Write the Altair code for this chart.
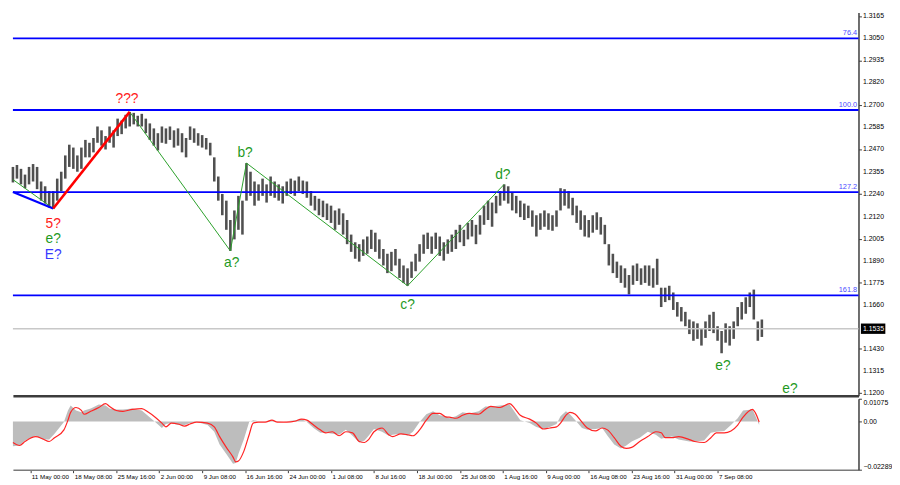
import altair as alt
import pandas as pd

# ---------------- data ----------------
# H4 bars, one sample every 3 bars: high / low prices
high = [
    1.2379, 1.2389, 1.2369, 1.2339, 1.2379, 1.2394, 1.2379, 1.2303, 1.2278, 1.2253,
    1.2253, 1.2318, 1.2354, 1.2439, 1.2495, 1.2480, 1.2439, 1.2480, 1.2520, 1.2505,
    1.2530, 1.2590, 1.2570, 1.2540, 1.2590, 1.2570, 1.2631, 1.2621, 1.2651, 1.2666,
    1.2661, 1.2646, 1.2656, 1.2631, 1.2606, 1.2580, 1.2555, 1.2590, 1.2580, 1.2590,
    1.2570, 1.2580, 1.2555, 1.2530, 1.2590, 1.2580, 1.2555, 1.2545, 1.2530, 1.2505,
    1.2429, 1.2329, 1.2238, 1.2203, 1.2102, 1.2152, 1.2228, 1.2203, 1.2399, 1.2354,
    1.2303, 1.2288, 1.2318, 1.2288, 1.2329, 1.2303, 1.2288, 1.2278, 1.2303, 1.2318,
    1.2308, 1.2329, 1.2308, 1.2303, 1.2253, 1.2228, 1.2213, 1.2203, 1.2188, 1.2177,
    1.2152, 1.2162, 1.2137, 1.2102, 1.2026, 1.1986, 1.1976, 1.2001, 1.2016, 1.2051,
    1.2036, 1.2001, 1.1951, 1.1926, 1.1936, 1.1951, 1.1900, 1.1865, 1.1850, 1.1885,
    1.1926, 1.1976, 1.2026, 1.2036, 1.2016, 1.2036, 1.2016, 1.1986, 1.2001, 1.2026,
    1.2051, 1.2077, 1.2051, 1.2087, 1.2102, 1.2077, 1.2127, 1.2177, 1.2203, 1.2193,
    1.2228, 1.2253, 1.2288, 1.2278, 1.2243, 1.2228, 1.2203, 1.2188, 1.2177, 1.2152,
    1.2127, 1.2137, 1.2152, 1.2137, 1.2127, 1.2152, 1.2268, 1.2263, 1.2253, 1.2218,
    1.2177, 1.2152, 1.2127, 1.2102, 1.2127, 1.2142, 1.2117, 1.2077, 1.1976, 1.1926,
    1.1885, 1.1865, 1.1850, 1.1815, 1.1865, 1.1875, 1.1850, 1.1865, 1.1865, 1.1850,
    1.1900, 1.1749, 1.1749, 1.1759, 1.1724, 1.1674, 1.1648, 1.1623, 1.1583, 1.1573,
    1.1563, 1.1538, 1.1573, 1.1608, 1.1623, 1.1548, 1.1523, 1.1563, 1.1548, 1.1573,
    1.1648, 1.1674, 1.1699, 1.1724, 1.1739, 1.1573, 1.1583,
]
low = [
    1.2298, 1.2318, 1.2288, 1.2268, 1.2288, 1.2303, 1.2263, 1.2203, 1.2188, 1.2167,
    1.2162, 1.2203, 1.2253, 1.2318, 1.2379, 1.2369, 1.2354, 1.2369, 1.2429, 1.2429,
    1.2455, 1.2505, 1.2490, 1.2470, 1.2505, 1.2480, 1.2540, 1.2550, 1.2580, 1.2590,
    1.2601, 1.2590, 1.2590, 1.2555, 1.2520, 1.2490, 1.2465, 1.2505, 1.2500, 1.2520,
    1.2480, 1.2490, 1.2455, 1.2429, 1.2520, 1.2505, 1.2490, 1.2480, 1.2470, 1.2439,
    1.2303, 1.2203, 1.2127, 1.2051, 1.1941, 1.2001, 1.2051, 1.2026, 1.2203, 1.2228,
    1.2177, 1.2203, 1.2228, 1.2193, 1.2228, 1.2218, 1.2203, 1.2188, 1.2228, 1.2238,
    1.2228, 1.2253, 1.2238, 1.2218, 1.2177, 1.2152, 1.2127, 1.2117, 1.2102, 1.2087,
    1.2051, 1.2077, 1.2026, 1.1976, 1.1936, 1.1900, 1.1885, 1.1915, 1.1926, 1.1951,
    1.1936, 1.1900, 1.1865, 1.1825, 1.1835, 1.1865, 1.1800, 1.1774, 1.1759, 1.1800,
    1.1835, 1.1885, 1.1926, 1.1951, 1.1926, 1.1951, 1.1915, 1.1890, 1.1926, 1.1936,
    1.1951, 1.1986, 1.1966, 1.2001, 1.2016, 1.1976, 1.2026, 1.2077, 1.2102, 1.2067,
    1.2137, 1.2177, 1.2203, 1.2188, 1.2152, 1.2137, 1.2117, 1.2102, 1.2112, 1.2067,
    1.2016, 1.2051, 1.2067, 1.2051, 1.2046, 1.2067, 1.2152, 1.2177, 1.2162, 1.2127,
    1.2087, 1.2051, 1.2016, 1.2011, 1.2036, 1.2051, 1.2026, 1.1976, 1.1865, 1.1825,
    1.1800, 1.1774, 1.1749, 1.1714, 1.1764, 1.1784, 1.1764, 1.1774, 1.1759, 1.1749,
    1.1764, 1.1648, 1.1674, 1.1684, 1.1633, 1.1598, 1.1573, 1.1548, 1.1507, 1.1472,
    1.1482, 1.1447, 1.1487, 1.1523, 1.1512, 1.1472, 1.1407, 1.1462, 1.1447, 1.1482,
    1.1548, 1.1583, 1.1613, 1.1648, 1.1583, 1.1472, 1.1492,
]
BAR_STEP = 3

# oscillator (MACD-like): bar positions, grey histogram, red signal line
osc_bar = [
    0, 5, 9, 17, 22, 27, 31, 38, 41, 43,
    47, 51, 53, 58, 64, 69, 72, 77, 82, 89,
    96, 101, 106, 111, 114, 118, 123, 128, 132, 137,
    145, 150, 154, 159, 164, 166, 168, 172, 176, 179,
    183, 188, 193, 197, 204, 210, 215, 219, 224, 229,
    233, 238, 243, 248, 253, 258, 262, 265, 269, 275,
    280, 283, 289, 294, 298, 303, 308, 313, 318, 323,
    325, 330, 335, 340, 347, 352, 356, 363, 370, 374,
    378, 385, 390, 395, 400, 405, 408, 412, 415, 419,
    424, 428, 434, 439, 443, 448, 453, 457, 461, 467,
    473, 479, 483, 486, 491, 496, 504, 508, 515, 520,
    524, 530, 535, 540, 544, 551, 553, 556,
]
osc_hist = [
    -0.0118, -0.0114, -0.0091, -0.0068, -0.0086, -0.0086, -0.0059, -0.0003, 0.0052, 0.0075,
    0.0052, 0.0043, 0.0052, 0.0061, 0.0080, 0.0075, 0.0061, 0.0057, 0.0057, 0.0061,
    0.0052, 0.0024, -0.0003, -0.0031, -0.0012, -0.0008, -0.0017, -0.0017, -0.0008, -0.0003,
    -0.0017, -0.0049, -0.0109, -0.0155, -0.0201, -0.0197, -0.0155, -0.0086, -0.0003, 0.0006,
    0.0001, 0.0001, 0.0006, -0.0003, 0.0001, 0.0006, 0.0011, -0.0003, -0.0031, -0.0054,
    -0.0054, -0.0059, -0.0063, -0.0040, -0.0068, -0.0100, -0.0091, -0.0068, -0.0036, -0.0049,
    -0.0068, -0.0063, -0.0059, -0.0068, -0.0049, -0.0003, 0.0034, 0.0048, 0.0029, 0.0024,
    0.0015, 0.0024, 0.0043, 0.0038, 0.0048, 0.0071, 0.0071, 0.0075, 0.0080, 0.0043,
    0.0006, -0.0008, -0.0026, -0.0036, -0.0026, -0.0012, 0.0024, 0.0048, 0.0034, 0.0006,
    -0.0031, -0.0040, -0.0036, -0.0031, -0.0068, -0.0109, -0.0128, -0.0114, -0.0095, -0.0077,
    -0.0049, -0.0063, -0.0082, -0.0077, -0.0072, -0.0086, -0.0095, -0.0095, -0.0091, -0.0054,
    -0.0049, -0.0045, -0.0017, 0.0015, 0.0052, 0.0057, 0.0029, -0.0017,
]
osc_signal = [
    -0.0100, -0.0114, -0.0095, -0.0072, -0.0082, -0.0095, -0.0077, -0.0040, 0.0006, 0.0043,
    0.0066, 0.0052, 0.0034, 0.0048, 0.0066, 0.0084, 0.0071, 0.0052, 0.0048, 0.0057,
    0.0061, 0.0043, 0.0020, -0.0008, -0.0026, -0.0008, -0.0012, -0.0022, -0.0012, -0.0003,
    -0.0008, -0.0026, -0.0072, -0.0123, -0.0169, -0.0192, -0.0188, -0.0142, -0.0063, -0.0008,
    -0.0003, -0.0003, 0.0006, -0.0003, -0.0003, 0.0001, 0.0011, 0.0006, -0.0017, -0.0040,
    -0.0054, -0.0049, -0.0068, -0.0049, -0.0054, -0.0095, -0.0100, -0.0086, -0.0049, -0.0031,
    -0.0063, -0.0072, -0.0059, -0.0063, -0.0068, -0.0040, 0.0006, 0.0038, 0.0038, 0.0020,
    0.0020, 0.0015, 0.0029, 0.0038, 0.0034, 0.0057, 0.0071, 0.0066, 0.0084, 0.0061,
    0.0029, 0.0011, -0.0008, -0.0036, -0.0031, -0.0026, -0.0008, 0.0029, 0.0043, 0.0034,
    -0.0003, -0.0031, -0.0045, -0.0031, -0.0040, -0.0077, -0.0118, -0.0128, -0.0123, -0.0095,
    -0.0072, -0.0049, -0.0054, -0.0077, -0.0077, -0.0072, -0.0086, -0.0095, -0.0100, -0.0077,
    -0.0054, -0.0054, -0.0045, -0.0017, 0.0020, 0.0057, 0.0043, -0.0003,
]

fib_price = [1.3050, 1.2676, 1.2248, 1.1709]
fib_text = ["76.4", "100.0", "127.2", "161.8"]
last_price = 1.1535

price_ticks = [1.3165, 1.3050, 1.2935, 1.2820, 1.2700, 1.2585, 1.2470, 1.2355,
               1.2240, 1.2120, 1.2005, 1.1890, 1.1775, 1.1660, 1.1430, 1.1315, 1.1200]
osc_ticks = [0.01075, 0.0, -0.02289]

date_bars = [13, 45, 77, 109, 141, 173, 205, 237, 269, 301, 333, 365, 397, 429, 461, 493, 525]
date_labels = ["11 May 00:00", "18 May 08:00", "25 May 16:00", "2 Jun 00:00", "9 Jun 08:00",
               "16 Jun 16:00", "24 Jun 00:00", "1 Jul 08:00", "8 Jul 16:00", "18 Jul 00:00",
               "25 Jul 08:00", "1 Aug 16:00", "9 Aug 00:00", "16 Aug 08:00", "23 Aug 16:00",
               "31 Aug 00:00", "7 Sep 08:00"]

# wave markup
blue_bar = [0, 30]
blue_price = [1.2248, 1.2162]
red_bar = [30, 87]
red_price = [1.2162, 1.2666]
green0_bar = [0, 30]
green0_price = [1.2313, 1.2162]
green_bar = [87, 162, 174, 294, 366]
green_price = [1.2666, 1.1941, 1.2399, 1.1759, 1.2288]

wave_text = ["???", "5?", "e?", "E?", "a?", "b?", "c?", "d?", "e?", "e?"]
wave_text_bar = [85, 30, 30, 30, 163, 173, 294, 365, 529, 579]
wave_text_price = [1.2732, 1.2082, 1.2001, 1.1920, 1.1875, 1.2449, 1.1659, 1.2334, 1.1341, 1.1220]
wave_text_color = ["#ff1a1a", "#ff1a1a", "#1f9a1f", "#3a3aff", "#1f9a1f",
                   "#1f9a1f", "#1f9a1f", "#1f9a1f", "#1f9a1f", "#1f9a1f"]

# ---------------- layout / style ----------------
W = 858
H_MAIN = 389
H_OSC = 72
X_MAX = 630
FONT = "Liberation Sans"
AXC = "#3c3c3c"
LABEL_BAR = X_MAX * (W + 4.5) / W        # just right of the price-axis ticks

xs = alt.Scale(domain=[0, X_MAX], nice=False, zero=False)
ys = alt.Scale(domain=[1.1185, 1.3185], nice=False, zero=False)
oys = alt.Scale(domain=[-0.02289, 0.01075], nice=False, zero=False)

main_xaxis = alt.Axis(labels=False, ticks=False, domain=True, domainColor=AXC,
                      domainWidth=2.5, grid=False, title=None)
price_axis = alt.Axis(orient="right", values=price_ticks, labels=False, tickSize=3,
                      tickColor=AXC, domainColor=AXC, domainWidth=1.5, grid=False,
                      title=None)

label_expr = "[" + ",".join("'%s'" % s for s in date_labels) + "][round((datum.value - 13) / 32)]"
osc_xaxis = alt.Axis(values=date_bars, labelExpr=label_expr, labelAlign="left",
                     labelBaseline="top", labelFont=FONT, labelFontSize=6.3, labelColor="#000000",
                     labelPadding=1, labelOffset=1, labelOverlap=False, labelFlush=False,
                     tickSize=3, tickColor=AXC, domainColor="#7a7a7a", domainWidth=1.5,
                     grid=False, title=None)
osc_yaxis = alt.Axis(orient="right", values=osc_ticks,
                     labelExpr="datum.value == 0 ? '0.00' : format(datum.value, '.5f')",
                     labelFont=FONT, labelFontSize=7, labelColor="#000000", labelPadding=1.5,
                     tickSize=3, labelFlush=True, labelOverlap=False, domainColor=AXC,
                     domainWidth=1.5, tickColor=AXC, grid=False, title=None)

# ---------------- main panel ----------------
bars_df = pd.DataFrame({"bar": [i * BAR_STEP for i in range(len(high))], "high": high, "low": low})
fib_df = pd.DataFrame({"price": fib_price, "label": fib_text})
last_df = pd.DataFrame({"price": [last_price], "label": ["%.4f" % last_price]})
tick_df = pd.DataFrame({"price": price_ticks, "label": ["%.4f" % v for v in price_ticks]})

X_MAIN = alt.X("bar:Q", scale=xs, axis=main_xaxis)
Y_MAIN = alt.Y("price:Q", scale=ys, axis=price_axis)

bars_layer = alt.Chart(bars_df).mark_rule(color="#505050", strokeWidth=2.6).encode(
    x=X_MAIN,
    y=alt.Y("high:Q", scale=ys, axis=price_axis),
    y2="low:Q")

last_rule = alt.Chart(last_df).mark_rule(color="#c8c8c8", strokeWidth=1.6).encode(y=Y_MAIN)

fib_rules = alt.Chart(fib_df).mark_rule(color="#0000ff", strokeWidth=1.8).encode(y=Y_MAIN)

fib_labels = alt.Chart(fib_df).mark_text(
    align="right", baseline="bottom", dy=-1, fontSize=7.5, color="#4b4bff", font=FONT
).encode(x=alt.datum(X_MAX - 1), y=Y_MAIN, text="label:N")


def seg(bars, prices):
    return pd.DataFrame({"bar": bars, "price": prices})


def wave_line(bars, prices, color, width):
    return alt.Chart(seg(bars, prices)).mark_line(color=color, strokeWidth=width).encode(
        x=X_MAIN, y=Y_MAIN)


green0 = wave_line(green0_bar, green0_price, "#2aa02a", 1)
green = wave_line(green_bar, green_price, "#2aa02a", 1)
blue = wave_line(blue_bar, blue_price, "#0000ff", 2.2)
red = wave_line(red_bar, red_price, "#ff0000", 2.6)

wave_df = pd.DataFrame({"bar": wave_text_bar, "price": wave_text_price,
                        "text": wave_text, "color": wave_text_color})
wave_labels = alt.Chart(wave_df).mark_text(
    fontSize=14, font=FONT, align="center", baseline="middle"
).encode(x=X_MAIN, y=Y_MAIN, text="text:N", color=alt.Color("color:N", scale=None))

# price-axis labels (drawn as text just right of the axis)
tick_labels = alt.Chart(tick_df).mark_text(
    align="left", baseline="middle", fontSize=7, font=FONT, color="#000000"
).encode(x=alt.datum(LABEL_BAR), y=Y_MAIN, text="label:N")

box = alt.Chart(last_df).mark_rect(color="#000000").encode(
    x=alt.datum(LABEL_BAR - 1.5), x2=alt.datum(X_MAX + 20),
    y=alt.datum(last_price + 0.0027), y2=alt.datum(last_price - 0.0027))
box_text = alt.Chart(last_df).mark_text(color="#ffffff", fontSize=7, font=FONT,
                                        align="left", baseline="middle").encode(
    x=alt.datum(LABEL_BAR), y=Y_MAIN, text="label:N")

main = alt.layer(bars_layer, last_rule, fib_rules, fib_labels, green0, green, blue, red,
                 wave_labels, tick_labels, box, box_text).properties(width=W, height=H_MAIN)

# ---------------- oscillator panel ----------------
osc_df = pd.DataFrame({"bar": osc_bar, "hist": osc_hist, "signal": osc_signal})

osc_area = alt.Chart(osc_df).mark_area(color="#bdbdbd", interpolate="linear").encode(
    x=alt.X("bar:Q", scale=xs, axis=osc_xaxis),
    y=alt.Y("hist:Q", scale=oys, axis=osc_yaxis),
    y2=alt.datum(0))
osc_line = alt.Chart(osc_df).mark_line(color="#ff2424", strokeWidth=1.2, interpolate="monotone").encode(
    x=alt.X("bar:Q", scale=xs, axis=osc_xaxis),
    y=alt.Y("signal:Q", scale=oys, axis=osc_yaxis))

osc = alt.layer(osc_area, osc_line).properties(width=W, height=H_OSC)

chart = alt.vconcat(main, osc, spacing=1).properties(
    padding=0, background="#ffffff"
).configure_view(stroke=None)

chart.save("out.html", embed_options={"renderer": "svg", "actions": False})
